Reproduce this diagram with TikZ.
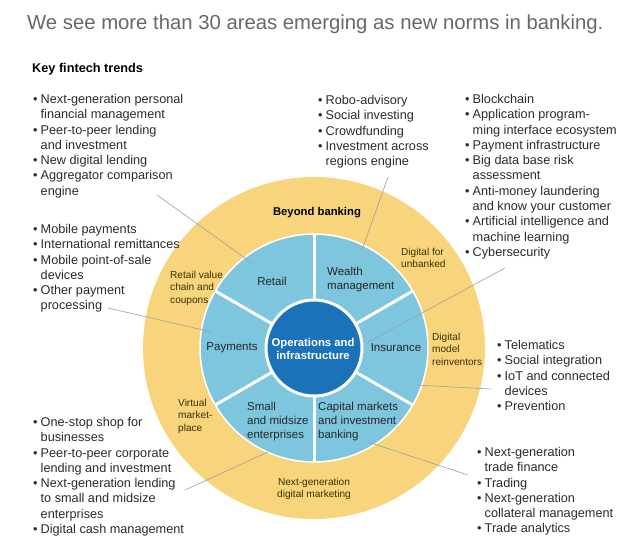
\documentclass[tikz,border=0pt]{standalone}
\usepackage{fontspec}
\setmainfont{Liberation Sans}
\definecolor{ringyellow}{HTML}{F8D57C}
\definecolor{ringblue}{HTML}{7DC6DD}
\definecolor{coreblue}{HTML}{1B72B9}
\definecolor{listgray}{HTML}{2B2B2B}
\definecolor{titlegray}{HTML}{686868}
\definecolor{ringtext}{HTML}{3A3000}
\newcommand{\bul}{\makebox[7.5pt][l]{\textbullet}}
\newcommand{\ind}{\hspace*{7.5pt}}
\tikzset{
  trend/.style={anchor=north west, inner sep=0pt, align=left, text=listgray,
    font=\fontsize{12.7}{15.3}\selectfont},
  ringlabel/.style={inner sep=0pt, align=left, text=ringtext,
    font=\fontsize{10.1}{12.6}\selectfont},
  sector/.style={inner sep=0pt, align=left, text=black!85,
    font=\fontsize{11.5}{14}\selectfont},
  lead/.style={draw=gray!75, line width=0.6pt},
}

\begin{document}
\begin{tikzpicture}[x=1pt, y=-1pt]
	\useasboundingbox (0,0) rectangle (637,557);
	\fill[white] (0,0) rectangle (637,557);
	\coordinate (c) at (314,348);
	% wheel
	\fill[ringyellow] (c) circle (171);
	\filldraw[fill=ringblue, draw=white, line width=1.5pt] (c) circle (114);
	\foreach \a in {30,90,...,330}
		\draw[white, line width=3pt] (c) -- ++(\a:114);
	\filldraw[fill=coreblue, draw=white, line width=3pt] (c) circle (48);
	% headings
	\node[anchor=base west, inner sep=0pt, text=titlegray, font=\fontsize{20.3}{24}\selectfont] (title) at (27,29.5) {We see more than 30 areas emerging as new norms in banking.};
	\node[anchor=base west, inner sep=0pt, text=black, font=\fontsize{12.7}{15}\selectfont\bfseries] (key) at (32,72.5) {Key fintech trends};
	% lists of trends
	\node[trend] (personal) at (33,94) {\bul Next-generation personal\\ \ind financial management\\ \bul Peer-to-peer lending\\ \ind and investment\\ \bul New digital lending\\ \bul Aggregator comparison\\ \ind engine};
	\node[trend] (paylist) at (33,224) {\bul Mobile payments\\ \bul International remittances\\ \bul Mobile point-of-sale\\ \ind devices\\ \bul Other payment\\ \ind processing};
	\node[trend] (smelist) at (33,417) {\bul One-stop shop for\\ \ind businesses\\ \bul Peer-to-peer corporate\\ \ind lending and investment\\ \bul Next-generation lending\\ \ind to small and midsize\\ \ind enterprises\\ \bul Digital cash management};
	\node[trend] (wealthlist) at (318,95) {\bul Robo-advisory\\ \bul Social investing\\ \bul Crowdfunding\\ \bul Investment across\\ \ind regions engine};
	\node[trend] (opslist) at (465,94) {\bul Blockchain\\ \bul Application program-\\ \ind ming interface ecosystem\\ \bul Payment infrastructure\\ \bul Big data base risk\\ \ind assessment\\ \bul Anti-money laundering\\ \ind and know your customer\\ \bul Artificial intelligence and\\ \ind machine learning\\ \bul Cybersecurity};
	\node[trend] (inslist) at (497,340) {\bul Telematics\\ \bul Social integration\\ \bul IoT and connected\\ \ind devices\\ \bul Prevention};
	\node[trend] (caplist) at (477,447) {\bul Next-generation\\ \ind trade finance\\ \bul Trading\\ \bul Next-generation\\ \ind collateral management\\ \bul Trade analytics};
	% yellow ring
	\node[inner sep=0pt, font=\fontsize{11.3}{13}\selectfont\bfseries] (beyond) at (317,213) {Beyond banking};
	\node[ringlabel, anchor=west] (unbanked) at (401,258) {Digital for\\unbanked};
	\node[ringlabel, anchor=west] (coupons) at (170,288) {Retail value\\chain and\\coupons};
	\node[ringlabel, anchor=west] (reinvent) at (432,349) {Digital\\model\\reinventors};
	\node[ringlabel, anchor=west] (market) at (178,416) {Virtual\\market-\\place};
	\node[ringlabel, align=center] (marketing) at (314,489) {Next-generation\\digital marketing};
	% blue ring
	\node[sector] (retail) at (272,281) {Retail};
	\node[sector, anchor=west] (wealth) at (327,280) {Wealth\\management};
	\node[sector] (payments) at (232,348) {Payments};
	\node[sector] (insurance) at (396,348) {Insurance};
	\node[sector, anchor=west] (sme) at (247,422) {Small\\and midsize\\enterprises};
	\node[sector, anchor=west] (capital) at (318,422) {Capital markets\\and investment\\banking};
	\node[inner sep=0pt, align=center, text=white, font=\fontsize{11.3}{13}\selectfont\bfseries] (ops) at (313,349) {Operations and\\infrastructure};
	% leader lines
	\coordinate (personal-tip) at (157,195);
	\coordinate (retail-tip) at (252,263);
	\coordinate (wealthlist-tip) at (388,177);
	\coordinate (wealth-tip) at (362,250);
	\coordinate (opslist-tip) at (505,268);
	\coordinate (ops-tip) at (368,342);
	\coordinate (paylist-tip) at (108,308);
	\coordinate (payments-tip) at (212,332);
	\coordinate (insurance-tip) at (415,385);
	\coordinate (inslist-tip) at (491,389);
	\coordinate (smelist-tip) at (185,490);
	\coordinate (sme-tip) at (268,452);
	\coordinate (capital-tip) at (368,442);
	\coordinate (caplist-tip) at (468,475);
	\draw[lead] (personal-tip) -- (retail-tip);
	\draw[lead] (wealthlist-tip) -- (wealth-tip);
	\draw[lead] (opslist-tip) -- (ops-tip);
	\draw[lead] (paylist-tip) -- (payments-tip);
	\draw[lead] (insurance-tip) -- (inslist-tip);
	\draw[lead] (smelist-tip) -- (sme-tip);
	\draw[lead] (capital-tip) -- (caplist-tip);
\end{tikzpicture}
\end{document}
